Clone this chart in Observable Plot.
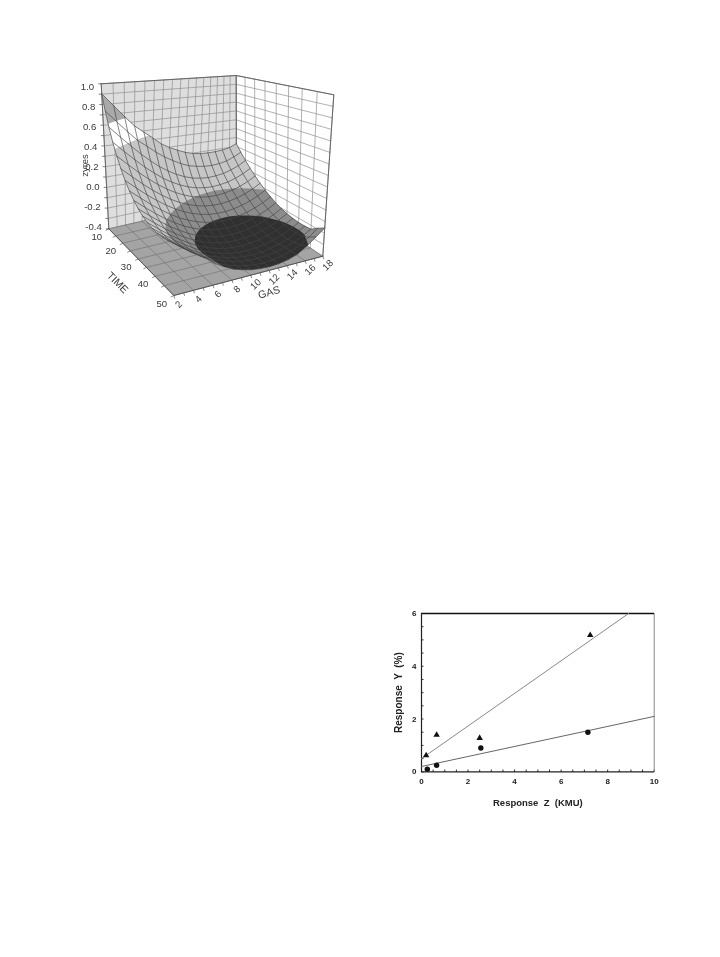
<!DOCTYPE html>
<html><head><meta charset="utf-8">
<script src="https://cdn.jsdelivr.net/npm/d3@7"></script>
<script src="https://cdn.jsdelivr.net/npm/@observablehq/plot@0.6"></script>
<style>
html,body{margin:0;padding:0;background:#fff}
#page{position:relative;width:720px;height:957px;overflow:hidden}
#page svg{position:absolute;filter:blur(.45px);overflow:visible}
</style></head><body><div id="page"></div>
<script>
// ---------- surface chart data ----------
const gasValues = d3.range(2, 19);           // 17 columns
const timeValues = d3.range(10, 50.1, 2.5);  // 17 rows
const zres = [
[.904,.780,.665,.562,.490,.420,.350,.300,.260,.225,.200,.185,.180,.180,.185,.200,.230],
[.755,.640,.534,.439,.370,.300,.240,.190,.145,.110,.090,.075,.070,.075,.090,.120,.158],
[.621,.514,.416,.328,.251,.182,.125,.077,.039,.010,-.007,-.016,-.013,-.003,.019,.050,.092],
[.502,.402,.311,.229,.158,.094,.042,-.001,-.036,-.061,-.076,-.082,-.077,-.065,-.042,-.010,.032],
[.398,.304,.218,.142,.076,.017,-.031,-.071,-.103,-.125,-.137,-.141,-.134,-.121,-.097,-.064,-.022],
[.307,.219,.138,.066,.004,-.051,-.096,-.133,-.161,-.181,-.191,-.193,-.185,-.170,-.146,-.112,-.070],
[.229,.145,.068,.001,-.058,-.110,-.152,-.186,-.212,-.230,-.238,-.239,-.229,-.213,-.188,-.155,-.112],
[.164,.084,.010,-.054,-.111,-.160,-.199,-.231,-.255,-.271,-.278,-.277,-.267,-.250,-.225,-.191,-.148],
[.110,.032,-.039,-.101,-.155,-.202,-.239,-.270,-.292,-.306,-.312,-.311,-.299,-.282,-.256,-.222,-.179],
[.068,-.007,-.077,-.137,-.189,-.235,-.271,-.299,-.321,-.334,-.339,-.336,-.325,-.307,-.280,-.246,-.203],
[.037,-.036,-.104,-.163,-.214,-.258,-.293,-.321,-.341,-.354,-.358,-.355,-.343,-.324,-.298,-.263,-.220],
[.016,-.057,-.124,-.181,-.231,-.275,-.309,-.336,-.356,-.367,-.371,-.368,-.355,-.337,-.310,-.275,-.232],
[.003,-.069,-.135,-.191,-.241,-.284,-.317,-.344,-.363,-.375,-.378,-.374,-.362,-.343,-.316,-.281,-.238],
[-.001,-.072,-.138,-.194,-.243,-.286,-.319,-.345,-.364,-.375,-.379,-.375,-.362,-.343,-.316,-.281,-.238],
[.003,-.068,-.133,-.189,-.239,-.281,-.314,-.340,-.359,-.370,-.373,-.369,-.356,-.337,-.310,-.275,-.232],
[.014,-.057,-.122,-.178,-.227,-.280,-.315,-.340,-.360,-.370,-.375,-.370,-.355,-.335,-.300,-.250,-.190],
[.032,-.039,-.104,-.160,-.225,-.270,-.310,-.335,-.355,-.365,-.370,-.365,-.350,-.325,-.275,-.215,-.155]
];
const zTicks = [1.0,.8,.6,.4,.2,0,-.2,-.4];
const zGrid = d3.range(-.4, 1.01, .1);
const timeTicks = [10,20,30,40,50];
const gasTicks = [2,4,6,8,10,12,14,16,18];
const floorGas = gasTicks;
const wallTime = [10,15,20,25,30,35,40,45,50];
const bands = [
  {limit:2,    fill:"#a9a9a9"},
  {limit:.65,  fill:"#ffffff"},
  {limit:.45,  fill:"#c6c6c6"},
  {limit:-.11, fill:"#8c8c8c"},
  {limit:-.265,fill:"#303030"}
];
// ---------- scatter data ----------
const triZ = [0.2,0.65,2.5,7.25];
const triY = [0.62,1.4,1.28,5.18];
const cirZ = [0.25,0.65,2.55,7.15];
const cirY = [0.1,0.25,0.9,1.5];
const triLineZ = [0,8.9], triLineY = [0.5,6];
const cirLineZ = [0,10], cirLineY = [0.2,2.1];

// ---------- camera of the 3D box: unit square -> quad ----------
function quadMap(p0,p1,p2,p3){ // (0,0),(1,0),(1,1),(0,1)
  const dx1=p1[0]-p2[0],dx2=p3[0]-p2[0],sx=p0[0]-p1[0]+p2[0]-p3[0];
  const dy1=p1[1]-p2[1],dy2=p3[1]-p2[1],sy=p0[1]-p1[1]+p2[1]-p3[1];
  const den=dx1*dy2-dx2*dy1;
  const g=(sx*dy2-dx2*sy)/den,h=(dx1*sy-sx*dy1)/den;
  const a=p1[0]-p0[0]+g*p1[0],b=p3[0]-p0[0]+h*p3[0],c=p0[0];
  const d=p1[1]-p0[1]+g*p1[1],e=p3[1]-p0[1]+h*p3[1],f=p0[1];
  return (u,v)=>{const w=g*u+h*v+1;return [(a*u+b*v+c)/w,(d*u+e*v+f)/w];};
}
const floorMap = quadMap([108.3,228.3],[236,199],[322.3,255.7],[173.3,295]);
const topMap   = quadMap([100.7,83.3],[235.7,75],[333.3,94.3],[170,124]);
function proj(g,t,z){
  const u=(g-2)/16,v=(t-10)/40,w=(z+.4)/1.4;
  const F=floorMap(u,v),T=topMap(u,v);
  return [F[0]+(T[0]-F[0])*w,F[1]+(T[1]-F[1])*w];
}
const row=(id,g,t,z)=>{const p=proj(g,t,z);return {id,x:p[0],y:p[1]};};
function path(prefix,pts){return pts.map(q=>row(prefix,q[0],q[1],q[2]));}

// walls and floor
const leftWall=path("lw",[[2,10,-.4],[18,10,-.4],[18,10,1],[2,10,1]]);
const rightWall=path("rw",[[18,10,-.4],[18,50,-.4],[18,50,1],[18,10,1]]);
const floor=path("fl",[[2,10,-.4],[18,10,-.4],[18,50,-.4],[2,50,-.4]]);
let grid=[],floorGrid=[];
gasValues.forEach(g=>grid.push(...path("lg"+g,[[g,10,-.4],[g,10,1]])));
zGrid.forEach(z=>{grid.push(...path("lz"+z,[[2,10,z],[18,10,z]]));grid.push(...path("rz"+z,[[18,10,z],[18,50,z]]));});
wallTime.forEach(t=>{grid.push(...path("rt"+t,[[18,t,-.4],[18,t,1]]));floorGrid.push(...path("ft"+t,[[2,t,-.4],[18,t,-.4]]));});
floorGas.forEach(g=>floorGrid.push(...path("fg"+g,[[g,10,-.4],[g,50,-.4]])));

// surface bands, from contours of the z table
const nx=gasValues.length,ny=timeValues.length;
const neg=zres.flat().map(v=>-v);
const contourGen=d3.contours().size([nx,ny]);
const clampIdx=(c,n)=>Math.max(0,Math.min(n-1,c-.5));
const bandRows=bands.map((b,i)=>{
  const c=contourGen.contour(neg,-b.limit);
  const out=[];
  c.coordinates.forEach((poly,k)=>{
    poly[0].forEach(pt=>{
      const jx=clampIdx(pt[0],nx),jy=clampIdx(pt[1],ny);
      const g=2+jx,t=10+jy*2.5;
      const j0=Math.floor(jx),i0=Math.floor(jy),j1=Math.min(nx-1,j0+1),i1=Math.min(ny-1,i0+1);
      const fx=jx-j0,fy=jy-i0;
      const z=(zres[i0][j0]*(1-fx)+zres[i0][j1]*fx)*(1-fy)+(zres[i1][j0]*(1-fx)+zres[i1][j1]*fx)*fy;
      out.push(row("b"+i+"_"+k,g,t,z));
    });
  });
  return out;
});
// surface mesh
let mesh=[];
gasValues.forEach((g,j)=>timeValues.forEach((t,i)=>mesh.push(row("g"+g,g,t,zres[i][j]))));
timeValues.forEach((t,i)=>gasValues.forEach((g,j)=>mesh.push(row("t"+t,g,t,zres[i][j]))));

// edges, ticks, labels
const edges=[
  ...path("e1",[[2,10,-.4],[2,10,1]]),
  ...path("e2",[[2,10,1],[18,10,1],[18,50,1],[18,50,-.4]]),
  ...path("e3",[[18,10,-.4],[18,10,1]]),
];
const floorEdges=[...path("e4",[[2,10,-.4],[2,50,-.4],[18,50,-.4]])];
const F=Plot.line;
const txt={fontFamily:"Liberation Sans",fontSize:9.6,fill:"#3a3a3a"};
const zLab=zTicks.map(z=>{const p=proj(2,10,z);return{x:p[0],y:p[1]+(1-z)*-3.6,t:z.toFixed(1)};});
const tLab=timeTicks.map(t=>{const p=proj(2,t,-.4);return{x:p[0],y:p[1],t:String(t)};});
const gLab=gasTicks.map(g=>{const p=proj(g,50,-.4);return{x:p[0],y:p[1],t:String(g)};});
const tTick=[];timeValues.filter((_,i)=>i%2==0).forEach(t=>{const p=proj(2,t,-.4);tTick.push({x1:p[0],y1:p[1],x2:p[0]-3,y2:p[1]+1.5});});
const gTick=[];gasValues.forEach(g=>{const p=proj(g,50,-.4);gTick.push({x1:p[0],y1:p[1],x2:p[0]+1,y2:p[1]+3});});
const zTick=[];zGrid.forEach(z=>{const p=proj(2,10,z);zTick.push({x1:p[0],y1:p[1],x2:p[0]-3,y2:p[1]});});
const gasLabelAt=proj(13.2,50,-.4),timeLabelAt=proj(2,38,-.4);

const surface=Plot.plot({
  width:720,height:320,margin:0,
  x:{domain:[0,720],range:[0,720],axis:null},
  y:{domain:[0,320],range:[0,320],axis:null},
  marks:[
    F(leftWall,{x:"x",y:"y",z:"id",fill:"#dedede",stroke:"none"}),
    F(rightWall,{x:"x",y:"y",z:"id",fill:"#ffffff",stroke:"none"}),
    F(floor,{x:"x",y:"y",z:"id",fill:"#a4a4a4",stroke:"none"}),
    F(grid,{x:"x",y:"y",z:"id",stroke:"#8f8f8f",strokeWidth:.7}),
    F(floorGrid,{x:"x",y:"y",z:"id",stroke:"#6e6e6e",strokeWidth:.6}),
    F(edges,{x:"x",y:"y",z:"id",stroke:"#666",strokeWidth:1}),
    ...bands.map((b,i)=>F(bandRows[i],{x:"x",y:"y",z:"id",fill:b.fill,stroke:"none"})),
    F(mesh,{x:"x",y:"y",z:"id",stroke:"#444",strokeWidth:.65}),
    F(floorEdges,{x:"x",y:"y",z:"id",stroke:"#555",strokeWidth:1}),
    Plot.link(zTick,{x1:"x1",y1:"y1",x2:"x2",y2:"y2",stroke:"#555",strokeWidth:.7}),
    Plot.link(tTick,{x1:"x1",y1:"y1",x2:"x2",y2:"y2",stroke:"#555",strokeWidth:.7}),
    Plot.link(gTick,{x1:"x1",y1:"y1",x2:"x2",y2:"y2",stroke:"#555",strokeWidth:.7}),
    Plot.text(zLab,{x:"x",y:"y",text:"t",dx:-7,dy:3,textAnchor:"end",...txt}),
    Plot.text(tLab,{x:"x",y:"y",text:"t",dx:-12,dy:8,...txt}),
    Plot.text(gLab,{x:"x",y:"y",text:"t",dx:5,dy:9,rotate:-45,...txt}),
    Plot.text(["GAS"],{x:()=>gasLabelAt[0]-11,y:()=>gasLabelAt[1]+25,text:d=>d,rotate:-16,...txt,fontSize:10.5}),
    Plot.text(["TIME"],{x:()=>timeLabelAt[0]-34,y:()=>timeLabelAt[1]+10,text:d=>d,rotate:45,...txt,fontSize:10.5}),
    Plot.text(["zyres"],{x:()=>84.5,y:()=>165,text:d=>d,rotate:-90,...txt,fontSize:9.5})
  ]
});
surface.style.left="0px";surface.style.top="0px";

const bold={fontFamily:"Liberation Sans",fontWeight:"bold",fill:"#222"};
const scatter=Plot.plot({
  width:303,height:221,marginLeft:50,marginRight:20,marginTop:12,marginBottom:50,
  style:{fontFamily:"Liberation Sans",fontWeight:"bold",fontSize:"8px",color:"#222"},
  x:{domain:[0,10],range:[50,282.7]},
  y:{domain:[0,6],range:[170.3,12]},
  marks:[
    Plot.axisX({ticks:[0,2,4,6,8,10],tickSize:0,tickPadding:6,tickFormat:d=>d,label:null,fontSize:8}),
    Plot.axisY({ticks:[0,2,4,6],tickSize:0,tickPadding:5,tickFormat:d=>d,label:null,fontSize:8}),
    Plot.axisX({ticks:d3.range(0,10.1,.5),tickSize:-2.5,text:null,label:null,stroke:"#333"}),
    Plot.axisY({ticks:d3.range(0,6.1,.5),tickSize:-2.5,text:null,label:null,stroke:"#333"}),
    Plot.ruleX([10],{stroke:"#888",strokeWidth:1}),
    Plot.ruleY([6],{stroke:"#111",strokeWidth:1.4}),
    Plot.ruleX([0],{stroke:"#222",strokeWidth:1.2}),
    Plot.ruleY([0],{stroke:"#222",strokeWidth:1.2}),
    Plot.line(triLineZ.map((z,i)=>({z,y:triLineY[i]})),{x:"z",y:"y",stroke:"#888",strokeWidth:1}),
    Plot.line(cirLineZ.map((z,i)=>({z,y:cirLineY[i]})),{x:"z",y:"y",stroke:"#666",strokeWidth:1}),
    Plot.dot(triZ.map((z,i)=>({z,y:triY[i]})),{x:"z",y:"y",symbol:"triangle",r:2.4,fill:"#111",stroke:"none"}),
    Plot.dot(cirZ.map((z,i)=>({z,y:cirY[i]})),{x:"z",y:"y",symbol:"circle",r:2.7,fill:"#111",stroke:"none"}),
    Plot.text(["Response  Z  (KMU)"],{text:d=>d,x:()=>5,frameAnchor:"bottom",dy:33,fontSize:9.5,...bold}),
    Plot.text(["Response  Y  (%)"],{text:d=>d,y:()=>3,frameAnchor:"left",dx:-23,rotate:-90,textAnchor:"middle",fontSize:10,...bold})
  ]
});
scatter.style.left="371px";scatter.style.top="600.7px";
const page=document.getElementById("page");
page.append(surface,scatter);
</script></body></html>
